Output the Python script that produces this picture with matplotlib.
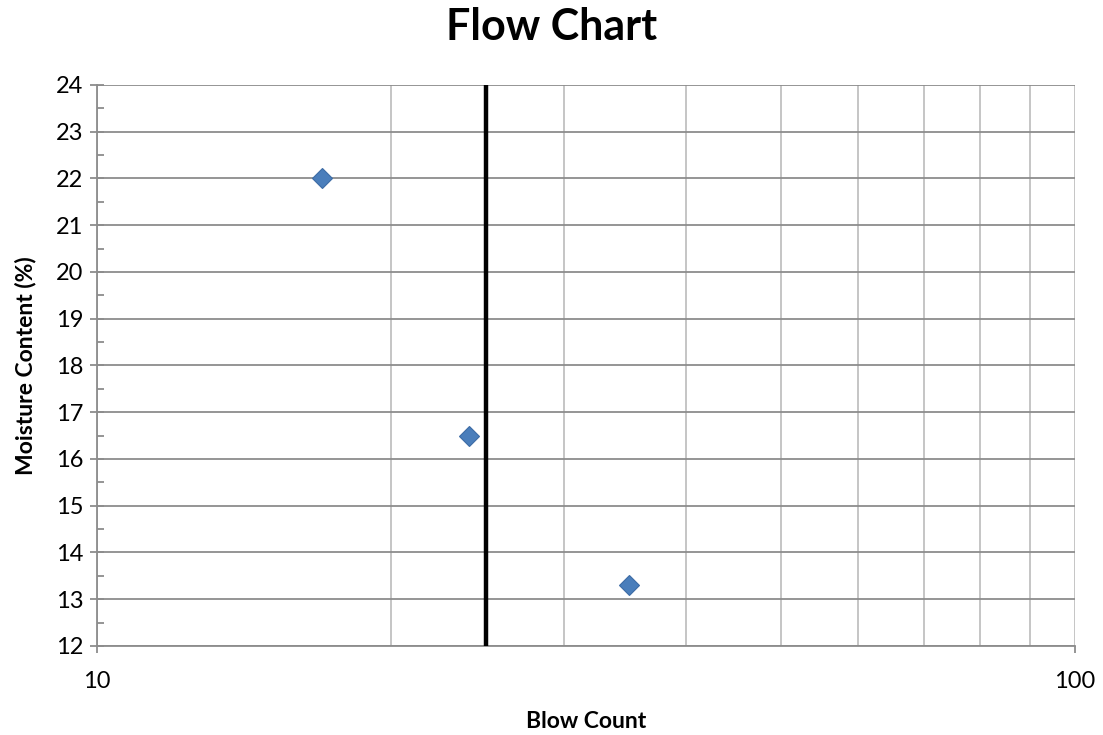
import matplotlib.pyplot as plt
from matplotlib.ticker import FixedLocator, NullFormatter, FixedFormatter
import numpy as np

plt.rcParams['font.family'] = ['Lato', 'DejaVu Sans']

blow_count = [17, 24, 35]
moisture = [22.0, 16.5, 13.3]
line_x = 25
x_major = [10, 100]
x_minor = [20, 30, 40, 50, 60, 70, 80, 90]
y_major = list(range(12, 25))

fig = plt.figure(figsize=(11.03, 7.35), dpi=100)
ax = fig.add_axes([0.088, 0.1211, 0.8866, 0.7633])

ax.set_xscale('log')
ax.set_xlim(10, 100)
ax.set_ylim(12, 24)

ax.xaxis.set_major_locator(FixedLocator(x_major))
ax.xaxis.set_major_formatter(FixedFormatter([str(v) for v in x_major]))
ax.xaxis.set_minor_locator(FixedLocator(x_minor))
ax.xaxis.set_minor_formatter(NullFormatter())
ax.yaxis.set_major_locator(FixedLocator(y_major))
ax.yaxis.set_minor_locator(FixedLocator(np.array(y_major[:-1]) + 0.5))

ax.grid(True, axis='y', which='major', color='#8c8c8c', lw=1.3)
ax.grid(True, axis='x', which='major', color='#c0c0c0', lw=1.3)
ax.grid(True, axis='x', which='minor', color='#c0c0c0', lw=1.3)
ax.set_axisbelow(True)

for s in ['top', 'right']:
    ax.spines[s].set_visible(False)
for s in ['left', 'bottom']:
    ax.spines[s].set_color('#8c8c8c')
    ax.spines[s].set_linewidth(1.3)

ax.tick_params(axis='y', which='major', direction='inout', length=10, width=1.3,
               color='#8c8c8c', labelsize=17, pad=5)
ax.tick_params(axis='y', which='minor', direction='in', length=5, width=1.3, color='#8c8c8c')
ax.tick_params(axis='x', which='major', direction='out', length=5, width=1.3,
               color='#8c8c8c', labelsize=17, pad=13)
ax.tick_params(axis='x', which='minor', length=0)

ax.axvline(line_x, color='black', lw=3.2, zorder=3)
ax.plot(blow_count, moisture, linestyle='none', marker='D', markersize=10,
        color='#4a7ebb', markeredgecolor='#3d6ca5', markeredgewidth=0.8, zorder=4)

ax.set_xlabel('Blow Count', fontsize=16.5, fontweight='bold', labelpad=14)
ax.set_ylabel('Moisture Content (%)', fontsize=16.5, fontweight='bold', labelpad=14)
fig.suptitle('Flow Chart', fontsize=31, fontweight='bold', y=0.99)

fig.savefig('out.png', dpi=100)
